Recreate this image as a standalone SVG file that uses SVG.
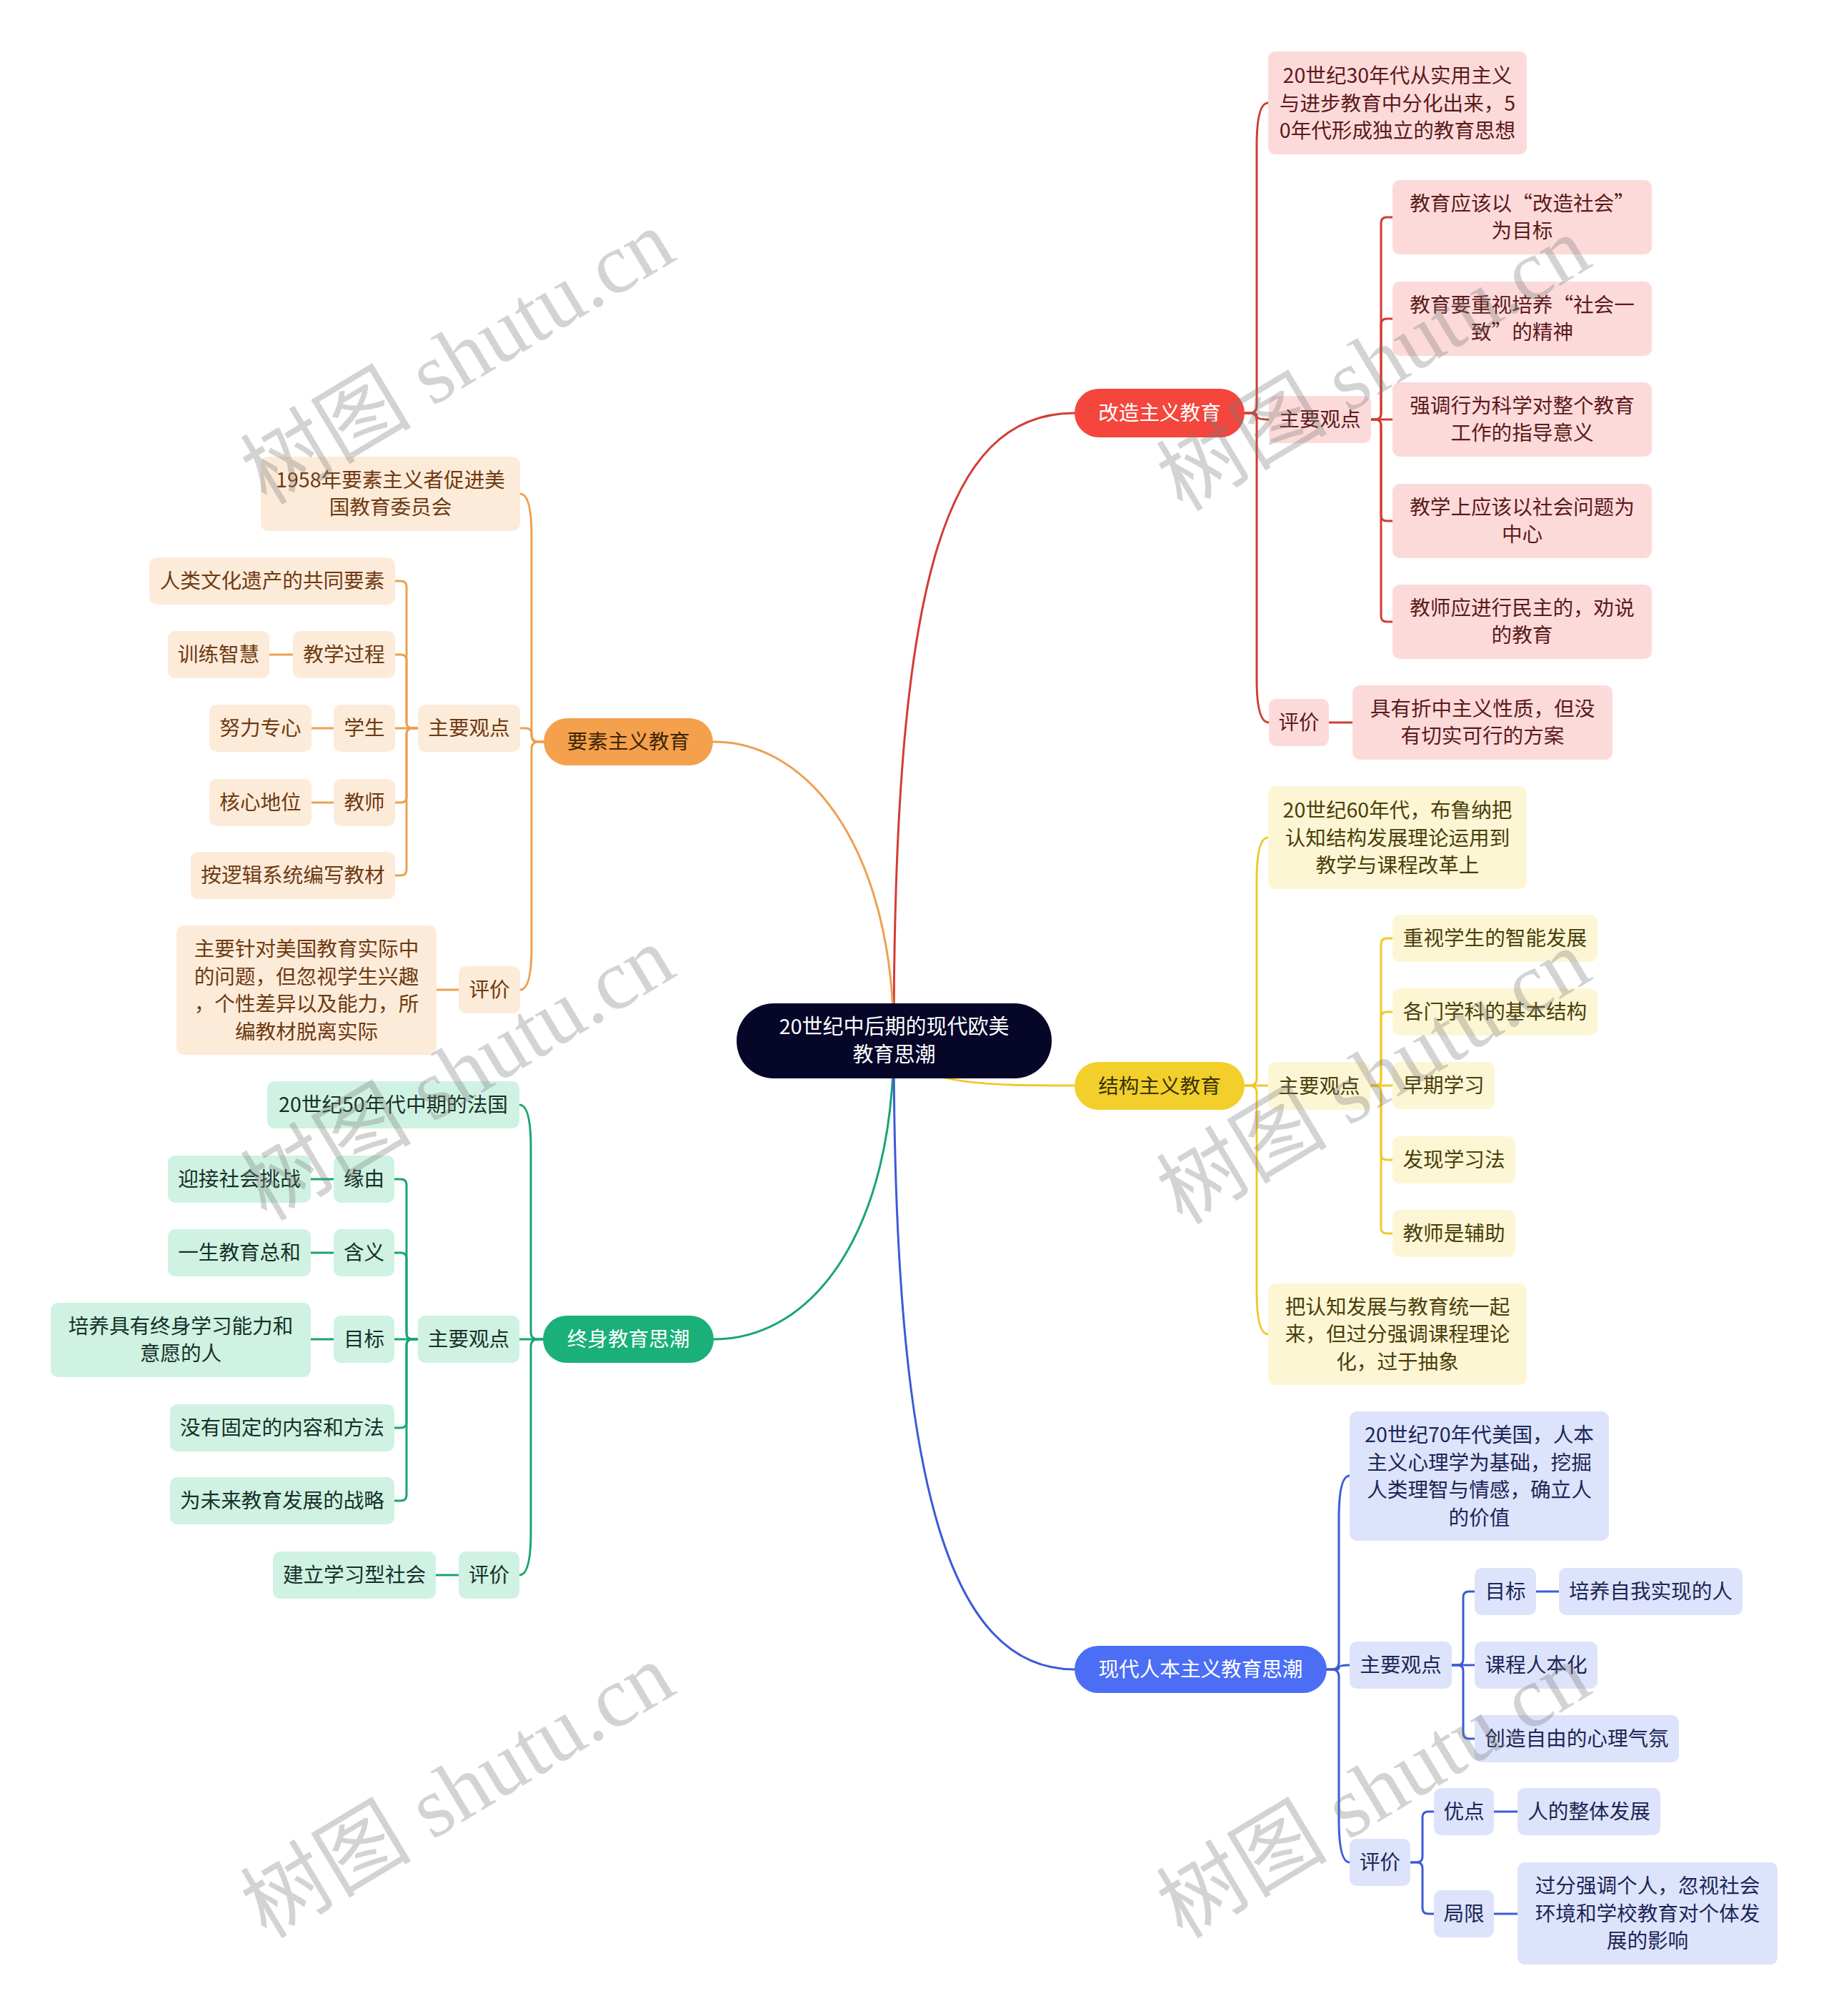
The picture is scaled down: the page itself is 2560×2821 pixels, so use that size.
<svg xmlns="http://www.w3.org/2000/svg" width="2560" height="2821" viewBox="0 0 2560 2821">
<style>
text{font-family:"Noto Sans CJK SC","Noto Sans",sans-serif;font-size:28.6px;text-anchor:middle}
.ln{fill:none;stroke-width:3;stroke-linecap:round;stroke-linejoin:round}
.lr{stroke:#d23d33}.ly{stroke:#efc92c}.lb{stroke:#3d5bd6}.lo{stroke:#eea050}.lg{stroke:#18a673}
.root rect{fill:#060629}.root text{fill:#ffffff;font-size:29px}
.mr rect{fill:#f4463c}.mr text{fill:#ffffff}
.my rect{fill:#f2cf2b}.my text{fill:#3a3208}
.mb rect{fill:#4c6ef5}.mb text{fill:#ffffff}
.mo rect{fill:#f4a04c}.mo text{fill:#3d2408}
.mg rect{fill:#19b07a}.mg text{fill:#ffffff}
.r rect{fill:#fddada}.r text{fill:#5b1a1a}
.y rect{fill:#fdf6d4}.y text{fill:#4a3f0a}
.b rect{fill:#dde3fb}.b text{fill:#1b2656}
.o rect{fill:#fdebd9}.o text{fill:#6e3a12}
.g rect{fill:#cff2e2}.g text{fill:#17302a}
.wm{font-family:"Liberation Serif","Noto Sans CJK SC",serif;font-size:120px;fill:#787878;fill-opacity:0.33}
</style>
<rect x="0" y="0" width="2560" height="2821" fill="#ffffff"/>
<g id="connectors">
<path class="ln lr" d="M1251,1456 C1251,820 1320,578 1504,578"/>
<path class="ln lo" d="M1251,1456 C1251,1200 1140,1038 998,1038"/>
<path class="ln lg" d="M1251,1456 C1251,1720 1140,1874 999,1874"/>
<path class="ln lb" d="M1251,1456 C1251,2050 1320,2336 1504,2336"/>
<path class="ln ly" d="M1251,1456 C1270,1519 1380,1519 1504,1519"/>
<path class="ln lr" d="M1742,578 L1749,578 Q1759,578 1759,568 L1759,204 Q1759,144 1775,144"/>
<path class="ln lr" d="M1742,578 L1754,578 Q1759,578 1759,582 Q1759,587 1776,587"/>
<path class="ln lr" d="M1742,578 L1749,578 Q1759,578 1759,588 L1759,951 Q1759,1011 1776,1011"/>
<path class="ln lr" d="M1919,587 L1925,587 Q1933,587 1933,579 L1933,312 Q1933,304 1941,304 L1949,304"/>
<path class="ln lr" d="M1919,587 L1925,587 Q1933,587 1933,579 L1933,454 Q1933,446 1941,446 L1949,446"/>
<path class="ln lr" d="M1919,587 L1949,587"/>
<path class="ln lr" d="M1919,587 L1925,587 Q1933,587 1933,595 L1933,721 Q1933,729 1941,729 L1949,729"/>
<path class="ln lr" d="M1919,587 L1925,587 Q1933,587 1933,595 L1933,862 Q1933,870 1941,870 L1949,870"/>
<path class="ln lr" d="M1860,1011 L1893,1011"/>
<path class="ln ly" d="M1742,1519 L1749,1519 Q1759,1519 1759,1509 L1759,1232 Q1759,1172 1775,1172"/>
<path class="ln ly" d="M1742,1519 L1775,1519"/>
<path class="ln ly" d="M1742,1519 L1749,1519 Q1759,1519 1759,1529 L1759,1807 Q1759,1867 1775,1867"/>
<path class="ln ly" d="M1918,1519 L1925,1519 Q1933,1519 1933,1511 L1933,1321 Q1933,1313 1941,1313 L1949,1313"/>
<path class="ln ly" d="M1918,1519 L1925,1519 Q1933,1519 1933,1511 L1933,1424 Q1933,1416 1941,1416 L1949,1416"/>
<path class="ln ly" d="M1918,1519 L1949,1519"/>
<path class="ln ly" d="M1918,1519 L1925,1519 Q1933,1519 1933,1527 L1933,1615 Q1933,1623 1941,1623 L1949,1623"/>
<path class="ln ly" d="M1918,1519 L1925,1519 Q1933,1519 1933,1527 L1933,1718 Q1933,1726 1941,1726 L1949,1726"/>
<path class="ln lb" d="M1857,2336 L1864,2336 Q1874,2336 1874,2326 L1874,2125 Q1874,2065 1889,2065"/>
<path class="ln lb" d="M1857,2336 L1871,2336 Q1874,2336 1874,2333 Q1874,2330 1889,2330"/>
<path class="ln lb" d="M1857,2336 L1864,2336 Q1874,2336 1874,2346 L1874,2546 Q1874,2606 1889,2606"/>
<path class="ln lb" d="M2032,2330 L2040,2330 Q2048,2330 2048,2322 L2048,2235 Q2048,2227 2056,2227 L2064,2227"/>
<path class="ln lb" d="M2032,2330 L2064,2330"/>
<path class="ln lb" d="M2032,2330 L2040,2330 Q2048,2330 2048,2338 L2048,2425 Q2048,2433 2056,2433 L2064,2433"/>
<path class="ln lb" d="M1974,2606 L1983,2606 Q1991,2606 1991,2598 L1991,2543 Q1991,2535 1999,2535 L2007,2535"/>
<path class="ln lb" d="M1974,2606 L1983,2606 Q1991,2606 1991,2614 L1991,2670 Q1991,2678 1999,2678 L2007,2678"/>
<path class="ln lb" d="M2150,2227 L2182,2227"/>
<path class="ln lb" d="M2091,2535 L2124,2535"/>
<path class="ln lb" d="M2091,2678 L2124,2678"/>
<path class="ln lo" d="M761,1038 L754,1038 Q744,1038 744,1028 L744,751 Q744,691 728,691"/>
<path class="ln lo" d="M761,1038 L752,1038 Q744,1038 744,1030 L744,1027 Q744,1019 736,1019 L728,1019"/>
<path class="ln lo" d="M761,1038 L754,1038 Q744,1038 744,1048 L744,1325 Q744,1385 728,1385"/>
<path class="ln lo" d="M585,1019 L577,1019 Q569,1019 569,1011 L569,821 Q569,813 561,813 L553,813"/>
<path class="ln lo" d="M585,1019 L577,1019 Q569,1019 569,1011 L569,924 Q569,916 561,916 L553,916"/>
<path class="ln lo" d="M585,1019 L553,1019"/>
<path class="ln lo" d="M585,1019 L577,1019 Q569,1019 569,1027 L569,1115 Q569,1123 561,1123 L553,1123"/>
<path class="ln lo" d="M585,1019 L577,1019 Q569,1019 569,1027 L569,1217 Q569,1225 561,1225 L553,1225"/>
<path class="ln lo" d="M410,916 L377,916"/>
<path class="ln lo" d="M467,1019 L436,1019"/>
<path class="ln lo" d="M467,1123 L436,1123"/>
<path class="ln lo" d="M642,1385 L611,1385"/>
<path class="ln lg" d="M760,1874 L753,1874 Q743,1874 743,1864 L743,1606 Q743,1546 727,1546"/>
<path class="ln lg" d="M760,1874 L727,1874"/>
<path class="ln lg" d="M760,1874 L753,1874 Q743,1874 743,1884 L743,2144 Q743,2204 727,2204"/>
<path class="ln lg" d="M585,1874 L577,1874 Q569,1874 569,1866 L569,1658 Q569,1650 561,1650 L552,1650"/>
<path class="ln lg" d="M585,1874 L577,1874 Q569,1874 569,1866 L569,1761 Q569,1753 561,1753 L552,1753"/>
<path class="ln lg" d="M585,1874 L552,1874"/>
<path class="ln lg" d="M585,1874 L577,1874 Q569,1874 569,1882 L569,1990 Q569,1998 561,1998 L552,1998"/>
<path class="ln lg" d="M585,1874 L577,1874 Q569,1874 569,1882 L569,2092 Q569,2100 561,2100 L552,2100"/>
<path class="ln lg" d="M467,1650 L435,1650"/>
<path class="ln lg" d="M467,1753 L435,1753"/>
<path class="ln lg" d="M467,1874 L435,1874"/>
<path class="ln lg" d="M642,2204 L610,2204"/>
</g>

<g id="root" class="root"><rect x="1031" y="1404" width="441" height="105" rx="52"/><text x="1251.5" y="1447"><tspan x="1251.5" y="1447">20世纪中后期的现代欧美</tspan><tspan x="1251.5" y="1486">教育思潮</tspan></text></g>

<g id="n-gaizao" class="mr"><rect x="1504" y="544" width="238" height="68" rx="34"/><text x="1623" y="588">改造主义教育</text></g>
<g id="n-gaizao-1" class="r"><rect x="1775" y="72" width="362" height="144" rx="10"/><text><tspan x="1956" y="116">20世纪30年代从实用主义</tspan><tspan x="1956" y="154.5">与进步教育中分化出来，5</tspan><tspan x="1956" y="193">0年代形成独立的教育思想</tspan></text></g>
<g id="n-gaizao-2" class="r"><rect x="1776" y="554" width="143" height="66" rx="10"/><text x="1847.5" y="597">主要观点</text></g>
<g id="n-gaizao-2-1" class="r"><rect x="1949" y="252" width="363" height="104" rx="10"/><text><tspan x="2130.5" y="294.5">教育应该以“改造社会”</tspan><tspan x="2130.5" y="333">为目标</tspan></text></g>
<g id="n-gaizao-2-2" class="r"><rect x="1949" y="394" width="363" height="104" rx="10"/><text><tspan x="2130.5" y="436.5">教育要重视培养“社会一</tspan><tspan x="2130.5" y="475">致”的精神</tspan></text></g>
<g id="n-gaizao-2-3" class="r"><rect x="1949" y="535" width="363" height="104" rx="10"/><text><tspan x="2130.5" y="577.5">强调行为科学对整个教育</tspan><tspan x="2130.5" y="616">工作的指导意义</tspan></text></g>
<g id="n-gaizao-2-4" class="r"><rect x="1949" y="677" width="363" height="104" rx="10"/><text><tspan x="2130.5" y="719.5">教学上应该以社会问题为</tspan><tspan x="2130.5" y="758">中心</tspan></text></g>
<g id="n-gaizao-2-5" class="r"><rect x="1949" y="818" width="363" height="104" rx="10"/><text><tspan x="2130.5" y="860.5">教师应进行民主的，劝说</tspan><tspan x="2130.5" y="899">的教育</tspan></text></g>
<g id="n-gaizao-3" class="r"><rect x="1776" y="978" width="84" height="66" rx="10"/><text x="1818" y="1021">评价</text></g>
<g id="n-gaizao-3-1" class="r"><rect x="1893" y="959" width="364" height="104" rx="10"/><text><tspan x="2075" y="1001.5">具有折中主义性质，但没</tspan><tspan x="2075" y="1040">有切实可行的方案</tspan></text></g>

<g id="n-jiegou" class="my"><rect x="1504" y="1486" width="238" height="67" rx="33.5"/><text x="1623" y="1529.5">结构主义教育</text></g>
<g id="n-jiegou-1" class="y"><rect x="1775" y="1100" width="362" height="144" rx="10"/><text><tspan x="1956" y="1144">20世纪60年代，布鲁纳把</tspan><tspan x="1956" y="1182.5">认知结构发展理论运用到</tspan><tspan x="1956" y="1221">教学与课程改革上</tspan></text></g>
<g id="n-jiegou-2" class="y"><rect x="1775" y="1486" width="143" height="67" rx="10"/><text x="1846.5" y="1529.5">主要观点</text></g>
<g id="n-jiegou-2-1" class="y"><rect x="1949" y="1280" width="287" height="66" rx="10"/><text x="2092.5" y="1323">重视学生的智能发展</text></g>
<g id="n-jiegou-2-2" class="y"><rect x="1949" y="1383" width="287" height="66" rx="10"/><text x="2092.5" y="1426">各门学科的基本结构</text></g>
<g id="n-jiegou-2-3" class="y"><rect x="1949" y="1486" width="143" height="66" rx="10"/><text x="2020.5" y="1529">早期学习</text></g>
<g id="n-jiegou-2-4" class="y"><rect x="1949" y="1590" width="172" height="66" rx="10"/><text x="2035" y="1633">发现学习法</text></g>
<g id="n-jiegou-2-5" class="y"><rect x="1949" y="1693" width="172" height="66" rx="10"/><text x="2035" y="1736">教师是辅助</text></g>
<g id="n-jiegou-3" class="y"><rect x="1775" y="1796" width="362" height="142" rx="10"/><text><tspan x="1956" y="1838.5">把认知发展与教育统一起</tspan><tspan x="1956" y="1877">来，但过分强调课程理论</tspan><tspan x="1956" y="1915.5">化，过于抽象</tspan></text></g>

<g id="n-renben" class="mb"><rect x="1504" y="2303" width="353" height="66" rx="33"/><text x="1680.5" y="2346">现代人本主义教育思潮</text></g>
<g id="n-renben-1" class="b"><rect x="1889" y="1975" width="363" height="181" rx="10"/><text><tspan x="2070.5" y="2018">20世纪70年代美国，人本</tspan><tspan x="2070.5" y="2056.5">主义心理学为基础，挖掘</tspan><tspan x="2070.5" y="2095">人类理智与情感，确立人</tspan><tspan x="2070.5" y="2133.5">的价值</tspan></text></g>
<g id="n-renben-2" class="b"><rect x="1889" y="2297" width="143" height="66" rx="10"/><text x="1960.5" y="2340">主要观点</text></g>
<g id="n-renben-2-1" class="b"><rect x="2064" y="2194" width="86" height="66" rx="10"/><text x="2107" y="2237">目标</text></g>
<g id="n-renben-2-1-1" class="b"><rect x="2182" y="2194" width="257" height="66" rx="10"/><text x="2310.5" y="2237">培养自我实现的人</text></g>
<g id="n-renben-2-2" class="b"><rect x="2064" y="2297" width="172" height="66" rx="10"/><text x="2150" y="2340">课程人本化</text></g>
<g id="n-renben-2-3" class="b"><rect x="2064" y="2400" width="286" height="66" rx="10"/><text x="2207" y="2443">创造自由的心理气氛</text></g>
<g id="n-renben-3" class="b"><rect x="1889" y="2573" width="85" height="66" rx="10"/><text x="1931.5" y="2616">评价</text></g>
<g id="n-renben-3-1" class="b"><rect x="2007" y="2502" width="84" height="66" rx="10"/><text x="2049" y="2545">优点</text></g>
<g id="n-renben-3-1-1" class="b"><rect x="2124" y="2502" width="200" height="66" rx="10"/><text x="2224" y="2545">人的整体发展</text></g>
<g id="n-renben-3-2" class="b"><rect x="2007" y="2645" width="84" height="66" rx="10"/><text x="2049" y="2688">局限</text></g>
<g id="n-renben-3-2-1" class="b"><rect x="2124" y="2606" width="364" height="143" rx="10"/><text><tspan x="2306" y="2649">过分强调个人，忽视社会</tspan><tspan x="2306" y="2687.5">环境和学校教育对个体发</tspan><tspan x="2306" y="2726">展的影响</tspan></text></g>

<g id="n-yaosu" class="mo"><rect x="761" y="1005" width="237" height="66" rx="33"/><text x="879.5" y="1048">要素主义教育</text></g>
<g id="n-yaosu-1" class="o"><rect x="365" y="639" width="363" height="104" rx="10"/><text><tspan x="546.5" y="681.5">1958年要素主义者促进美</tspan><tspan x="546.5" y="720">国教育委员会</tspan></text></g>
<g id="n-yaosu-2" class="o"><rect x="585" y="986" width="143" height="66" rx="10"/><text x="656.5" y="1029">主要观点</text></g>
<g id="n-yaosu-2-1" class="o"><rect x="209" y="780" width="344" height="66" rx="10"/><text x="381" y="823">人类文化遗产的共同要素</text></g>
<g id="n-yaosu-2-2" class="o"><rect x="410" y="883" width="143" height="66" rx="10"/><text x="481.5" y="926">教学过程</text></g>
<g id="n-yaosu-2-2-1" class="o"><rect x="235" y="883" width="142" height="66" rx="10"/><text x="306" y="926">训练智慧</text></g>
<g id="n-yaosu-2-3" class="o"><rect x="467" y="986" width="86" height="66" rx="10"/><text x="510" y="1029">学生</text></g>
<g id="n-yaosu-2-3-1" class="o"><rect x="293" y="986" width="143" height="66" rx="10"/><text x="364.5" y="1029">努力专心</text></g>
<g id="n-yaosu-2-4" class="o"><rect x="467" y="1090" width="86" height="66" rx="10"/><text x="510" y="1133">教师</text></g>
<g id="n-yaosu-2-4-1" class="o"><rect x="293" y="1090" width="143" height="66" rx="10"/><text x="364.5" y="1133">核心地位</text></g>
<g id="n-yaosu-2-5" class="o"><rect x="267" y="1192" width="286" height="66" rx="10"/><text x="410" y="1235">按逻辑系统编写教材</text></g>
<g id="n-yaosu-3" class="o"><rect x="642" y="1352" width="86" height="66" rx="10"/><text x="685" y="1395">评价</text></g>
<g id="n-yaosu-3-1" class="o"><rect x="247" y="1295" width="364" height="181" rx="10"/><text><tspan x="429" y="1338">主要针对美国教育实际中</tspan><tspan x="429" y="1376.5">的问题，但忽视学生兴趣</tspan><tspan x="429" y="1415">，个性差异以及能力，所</tspan><tspan x="429" y="1453.5">编教材脱离实际</tspan></text></g>

<g id="n-zhongshen" class="mg"><rect x="760" y="1841" width="239" height="66" rx="33"/><text x="879.5" y="1884">终身教育思潮</text></g>
<g id="n-zhongshen-1" class="g"><rect x="374" y="1513" width="353" height="66" rx="10"/><text x="550.5" y="1556">20世纪50年代中期的法国</text></g>
<g id="n-zhongshen-2" class="g"><rect x="585" y="1841" width="142" height="66" rx="10"/><text x="656" y="1884">主要观点</text></g>
<g id="n-zhongshen-2-1" class="g"><rect x="467" y="1617" width="85" height="66" rx="10"/><text x="509.5" y="1660">缘由</text></g>
<g id="n-zhongshen-2-1-1" class="g"><rect x="235" y="1617" width="200" height="66" rx="10"/><text x="335" y="1660">迎接社会挑战</text></g>
<g id="n-zhongshen-2-2" class="g"><rect x="467" y="1720" width="85" height="66" rx="10"/><text x="509.5" y="1763">含义</text></g>
<g id="n-zhongshen-2-2-1" class="g"><rect x="235" y="1720" width="200" height="66" rx="10"/><text x="335" y="1763">一生教育总和</text></g>
<g id="n-zhongshen-2-3" class="g"><rect x="467" y="1841" width="85" height="66" rx="10"/><text x="509.5" y="1884">目标</text></g>
<g id="n-zhongshen-2-3-1" class="g"><rect x="71" y="1823" width="364" height="104" rx="10"/><text><tspan x="253" y="1865.5">培养具有终身学习能力和</tspan><tspan x="253" y="1904">意愿的人</tspan></text></g>
<g id="n-zhongshen-2-4" class="g"><rect x="238" y="1965" width="314" height="66" rx="10"/><text x="395" y="2008">没有固定的内容和方法</text></g>
<g id="n-zhongshen-2-5" class="g"><rect x="238" y="2067" width="314" height="66" rx="10"/><text x="395" y="2110">为未来教育发展的战略</text></g>
<g id="n-zhongshen-3" class="g"><rect x="642" y="2171" width="85" height="66" rx="10"/><text x="684.5" y="2214">评价</text></g>
<g id="n-zhongshen-3-1" class="g"><rect x="382" y="2171" width="228" height="66" rx="10"/><text x="496" y="2214">建立学习型社会</text></g>

<g id="watermarks">
<text class="wm" x="643" y="540" transform="rotate(-31 643 504)">树图 shutu.cn</text>
<text class="wm" x="643" y="1542" transform="rotate(-31 643 1506)">树图 shutu.cn</text>
<text class="wm" x="643" y="2546" transform="rotate(-31 643 2510)">树图 shutu.cn</text>
<text class="wm" x="1925" y="549" transform="rotate(-31 1925 513)">树图 shutu.cn</text>
<text class="wm" x="1925" y="1547" transform="rotate(-31 1925 1511)">树图 shutu.cn</text>
<text class="wm" x="1925" y="2546" transform="rotate(-31 1925 2510)">树图 shutu.cn</text>
</g>
</svg>
